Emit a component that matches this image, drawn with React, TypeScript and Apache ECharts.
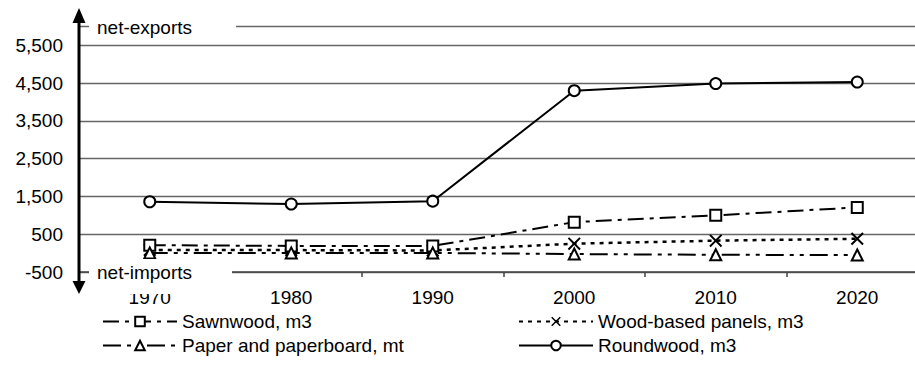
import React, { useEffect, useRef } from "react";
import * as echarts from "echarts";

const years = ["1970", "1980", "1990", "2000", "2010", "2020"];
const sawnwood = [210, 190, 190, 820, 1000, 1210];
const woodPanels = [85, 80, 70, 250, 330, 380];
const paper = [5, 5, 5, -25, -45, -50];
const roundwood = [1360, 1300, 1375, 4300, 4490, 4530];

const seriesNames = [
  "Sawnwood, m3",
  "Wood-based panels, m3",
  "Paper and paperboard, mt",
  "Roundwood, m3",
];

const FONT = '"Liberation Sans", Arial, sans-serif';
const X_SYMBOL =
  "path://M0,1.1L1.1,0L5,3.9L8.9,0L10,1.1L6.1,5L10,8.9L8.9,10L5,6.1L1.1,10L0,8.9L3.9,5Z";

export default function App() {
  const ref = useRef<HTMLDivElement>(null);
  useEffect(() => {
    if (!ref.current) return;
    const chart = echarts.init(ref.current, null, { renderer: "svg" });
    const hollow = { color: "#fff", borderColor: "#000", borderWidth: 2 };
    chart.setOption({
      animation: false,
      backgroundColor: "#fff",
      textStyle: { fontFamily: FONT },
      grid: {
        left: 79,
        top: 26.5,
        right: -13,
        bottom: 94,
        containLabel: false,
        outerBoundsMode: "none",
      },
      xAxis: {
        type: "category",
        data: years,
        boundaryGap: true,
        axisLine: { onZero: false, lineStyle: { color: "#444", width: 1.5 } },
        axisTick: { show: true, length: 5, lineStyle: { color: "#444", width: 1.5 } },
        axisLabel: { color: "#000", fontSize: 19, fontFamily: FONT, margin: 16 },
        splitLine: { show: false },
      },
      yAxis: {
        type: "value",
        min: -500,
        max: 6000,
        interval: 1000,
        axisLine: { show: false },
        axisTick: { show: false },
        axisLabel: {
          color: "#000",
          fontSize: 19,
          fontFamily: FONT,
          margin: 16,
          formatter: (v: number) => (v > 5500 ? "" : v.toLocaleString("en-US")),
        },
        splitLine: { show: true, lineStyle: { color: "#666", width: 1.3 } },
      },
      legend: [
        {
          orient: "vertical",
          left: 102,
          top: 312,
          itemWidth: 74,
          itemHeight: 12,
          itemGap: 5,
          padding: 0,
          textStyle: { color: "#000", fontSize: 19, fontFamily: FONT },
          data: [seriesNames[0], seriesNames[2]],
        },
        {
          orient: "vertical",
          left: 518,
          top: 312,
          itemWidth: 74,
          itemHeight: 12,
          itemGap: 5,
          padding: 0,
          textStyle: { color: "#000", fontSize: 19, fontFamily: FONT },
          data: [seriesNames[1], seriesNames[3]],
        },
      ],
      series: [
        {
          name: seriesNames[0],
          type: "line",
          data: sawnwood,
          symbol: "rect",
          symbolSize: 11,
          itemStyle: hollow,
          lineStyle: { color: "#000", width: 2, type: [16, 6, 4, 6] },
          z: 3,
        },
        {
          name: seriesNames[1],
          type: "line",
          data: woodPanels,
          symbol: X_SYMBOL,
          symbolSize: 13,
          itemStyle: { color: "#000", borderWidth: 0 },
          lineStyle: { color: "#000", width: 2.5, type: [4, 5] },
          z: 2,
        },
        {
          name: seriesNames[2],
          type: "line",
          data: paper,
          symbol: "triangle",
          symbolSize: 11,
          itemStyle: hollow,
          lineStyle: { color: "#000", width: 2, type: [18, 6, 4, 6, 4, 6] },
          z: 4,
        },
        {
          name: seriesNames[3],
          type: "line",
          data: roundwood,
          symbol: "circle",
          symbolSize: 11,
          itemStyle: hollow,
          lineStyle: { color: "#000", width: 2 },
          z: 5,
        },
      ],
      graphic: [
        {
          type: "rect",
          z: 100,
          shape: { x: 89, y: 13, width: 147, height: 28 },
          style: { fill: "#fff" },
        },
        {
          type: "text",
          z: 101,
          x: 97,
          y: 27,
          style: {
            text: "net-exports",
            fill: "#000",
            fontSize: 19,
            fontFamily: FONT,
            verticalAlign: "middle",
          },
        },
        {
          type: "rect",
          z: 100,
          shape: { x: 89, y: 259, width: 143, height: 35 },
          style: { fill: "#fff" },
        },
        {
          type: "text",
          z: 101,
          x: 97,
          y: 272,
          style: {
            text: "net-imports",
            fill: "#000",
            fontSize: 19,
            fontFamily: FONT,
            verticalAlign: "middle",
          },
        },
        {
          type: "line",
          z: 102,
          shape: { x1: 79, y1: 20, x2: 79, y2: 284 },
          style: { stroke: "#000", lineWidth: 3 },
        },
        {
          type: "polygon",
          z: 102,
          shape: { points: [[72.5, 23], [85.5, 23], [79, 8]] },
          style: { fill: "#000" },
        },
        {
          type: "polygon",
          z: 102,
          shape: { points: [[72.5, 281], [85.5, 281], [79, 294]] },
          style: { fill: "#000" },
        },
      ],
    });
    return () => chart.dispose();
  }, []);
  return (
    <div
      ref={ref}
      style={{ position: "fixed", left: 0, top: 0, width: 915, height: 366 }}
    />
  );
}
